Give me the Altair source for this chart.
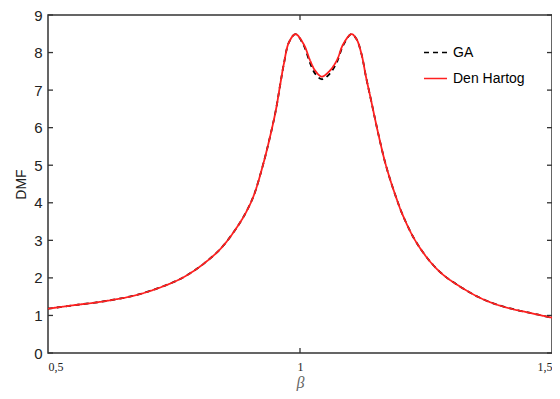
import altair as alt
import pandas as pd

beta = [0.50, 0.55, 0.615, 0.68, 0.746, 0.778, 0.811, 0.844, 0.876, 0.895,
        0.909, 0.925, 0.939, 0.952, 0.961, 0.968, 0.978, 0.991, 1.007, 1.020,
        1.030, 1.043, 1.058, 1.073, 1.086, 1.102, 1.112, 1.122, 1.131, 1.141,
        1.151, 1.159, 1.168, 1.177, 1.190, 1.203, 1.223, 1.243, 1.265, 1.288,
        1.321, 1.354, 1.386, 1.419, 1.452, 1.50]

dmf_den_hartog = [1.18, 1.27, 1.385, 1.56, 1.87, 2.09, 2.40, 2.80, 3.37, 3.80,
                  4.22, 4.93, 5.67, 6.46, 7.17, 7.70, 8.27, 8.49, 8.23, 7.79,
                  7.52, 7.36, 7.50, 7.79, 8.23, 8.49, 8.36, 7.96, 7.35, 6.73,
                  6.10, 5.62, 5.12, 4.70, 4.17, 3.70, 3.13, 2.70, 2.33, 2.04,
                  1.74, 1.49, 1.31, 1.18, 1.08, 0.94]

dmf_ga = [1.18, 1.27, 1.385, 1.56, 1.87, 2.09, 2.40, 2.80, 3.37, 3.80,
          4.22, 4.93, 5.67, 6.46, 7.17, 7.70, 8.27, 8.49, 8.20, 7.72,
          7.44, 7.29, 7.42, 7.74, 8.20, 8.49, 8.36, 7.96, 7.35, 6.73,
          6.10, 5.62, 5.12, 4.70, 4.17, 3.70, 3.13, 2.70, 2.33, 2.04,
          1.74, 1.49, 1.31, 1.18, 1.08, 0.94]

series_names = ["GA", "Den Hartog"]
series_colors = ["#000000", "#ff2020"]
x_tick_values = [0.5, 1, 1.5]
y_tick_values = list(range(10))

n = len(beta)
df = pd.DataFrame({
    "beta": beta * 2,
    "dmf": dmf_ga + dmf_den_hartog,
    "series": ["GA"] * n + ["Den Hartog"] * n,
})

W, H = 504, 338

xscale = alt.Scale(domain=[0.5, 1.5], nice=False, zero=False)
yscale = alt.Scale(domain=[0, 9], nice=False, zero=True)

legend = alt.Legend(
    title=None, orient="none", legendX=375, legendY=25,
    symbolType="stroke", symbolSize=529, symbolStrokeWidth=1.6,
    labelFont="Liberation Sans", labelFontSize=14, labelColor="#000",
    labelOffset=5, rowPadding=6, padding=0,
)

color = alt.Color("series:N", scale=alt.Scale(domain=series_names, range=series_colors), legend=legend)
dash = alt.StrokeDash("series:N", scale=alt.Scale(domain=series_names, range=[[5, 4], [1, 0]]), legend=legend)

x_axis = alt.Axis(
    values=x_tick_values,
    labelExpr="replace(toString(datum.value), '.', ',')",
    labelFlush=True, ticks=False, domain=False, grid=False,
    labelFont="Liberation Serif", labelFontSize=12, labelColor="#222",
    labelPadding=8,
    title="β", titleFont="Liberation Serif", titleFontStyle="italic",
    titleFontWeight="normal", titleFontSize=16, titleColor="#666",
    titlePadding=2,
)
y_axis = alt.Axis(
    values=y_tick_values, ticks=False, domain=False, grid=False,
    labelFont="Liberation Sans", labelFontSize=15, labelColor="#222",
    labelPadding=6,
    title="DMF", titleFont="Liberation Sans", titleFontWeight="normal",
    titleFontSize=14, titleColor="#222", titlePadding=5,
)

x_enc = alt.X("beta:Q", scale=xscale, axis=x_axis)
y_enc = alt.Y("dmf:Q", scale=yscale, axis=y_axis)

base = alt.Chart(df)
ga = base.transform_filter(alt.datum.series == "GA").mark_line(
    strokeWidth=1.8, interpolate="catmull-rom"
).encode(x=x_enc, y=y_enc, color=color, strokeDash=dash)
dh = base.transform_filter(alt.datum.series == "Den Hartog").mark_line(
    strokeWidth=1.8, interpolate="catmull-rom"
).encode(x=x_enc, y=y_enc, color=color, strokeDash=dash)

ytick_df = pd.DataFrame({"dmf": y_tick_values})
xtick_df = pd.DataFrame({"beta": [1]})
tick_style = dict(color="#333", strokeWidth=1.3)

left_ticks = alt.Chart(ytick_df).mark_rule(**tick_style).encode(
    y=y_enc, x=alt.value(0), x2=alt.value(5))
right_ticks = alt.Chart(ytick_df).mark_rule(**tick_style).encode(
    y=y_enc, x=alt.value(W - 5), x2=alt.value(W))
bottom_ticks = alt.Chart(xtick_df).mark_rule(**tick_style).encode(
    x=x_enc, y=alt.value(H), y2=alt.value(H - 5))
top_ticks = alt.Chart(xtick_df).mark_rule(**tick_style).encode(
    x=x_enc, y=alt.value(0), y2=alt.value(5))

chart = alt.layer(ga, dh, left_ticks, right_ticks, bottom_ticks, top_ticks).properties(
    width=W, height=H,
    background="white",
    autosize=alt.AutoSizeParams(type="none"),
    padding={"left": 40, "top": 7, "right": 0, "bottom": 38},
).configure_view(stroke="#333", strokeWidth=1.5)

chart.save("out.html", embed_options={"renderer": "svg", "actions": False})
